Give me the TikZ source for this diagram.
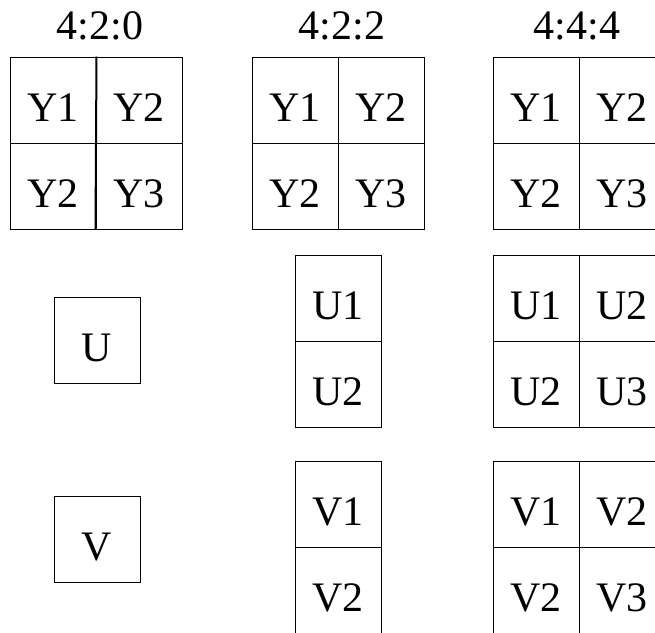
\documentclass[tikz,border=0pt]{standalone}
\usepackage{fontspec}
\setmainfont{Liberation Serif}
\begin{document}
\begin{tikzpicture}[x=1pt,y=-1pt,
    cell/.style={draw, line width=1pt, minimum width=86pt, minimum height=86pt,
        inner sep=0pt, text height=42pt, text depth=0pt, font=\fontsize{42}{50}\selectfont},
    title/.style={inner sep=0pt, font=\fontsize{42}{50}\selectfont}]
    \clip (0,0) rectangle (655,632);

    % titres
    \node[title] (t420) at (100, 26) {4:2:0};
    \node[title] (t422) at (342, 26) {4:2:2};
    \node[title] (t444) at (577, 26) {4:4:4};

    % 4:2:0
    \node[cell] (y420a) at (53, 100) {Y1};
    \node[cell] (y420b) at (139, 100) {Y2};
    \node[cell] (y420c) at (53, 186) {Y2};
    \node[cell] (y420d) at (139, 186) {Y3};
    \draw[line width=2pt] (y420a.north east) -- (y420d.south west);
    \node[cell] (u420) at (97, 340) {U};
    \node[cell] (v420) at (97, 539) {V};

    % 4:2:2
    \node[cell] (y422a) at (295, 100) {Y1};
    \node[cell] (y422b) at (381, 100) {Y2};
    \node[cell] (y422c) at (295, 186) {Y2};
    \node[cell] (y422d) at (381, 186) {Y3};
    \node[cell] (u422a) at (338, 298) {U1};
    \node[cell] (u422b) at (338, 384) {U2};
    \node[cell] (v422a) at (338, 504) {V1};
    \node[cell] (v422b) at (338, 590) {V2};

    % 4:4:4
    \node[cell] (y444a) at (536, 100) {Y1};
    \node[cell] (y444b) at (622, 100) {Y2};
    \node[cell] (y444c) at (536, 186) {Y2};
    \node[cell] (y444d) at (622, 186) {Y3};
    \node[cell] (u444a) at (536, 298) {U1};
    \node[cell] (u444b) at (622, 298) {U2};
    \node[cell] (u444c) at (536, 384) {U2};
    \node[cell] (u444d) at (622, 384) {U3};
    \node[cell] (v444a) at (536, 504) {V1};
    \node[cell] (v444b) at (622, 504) {V2};
    \node[cell] (v444c) at (536, 590) {V2};
    \node[cell] (v444d) at (622, 590) {V3};
\end{tikzpicture}
\end{document}
